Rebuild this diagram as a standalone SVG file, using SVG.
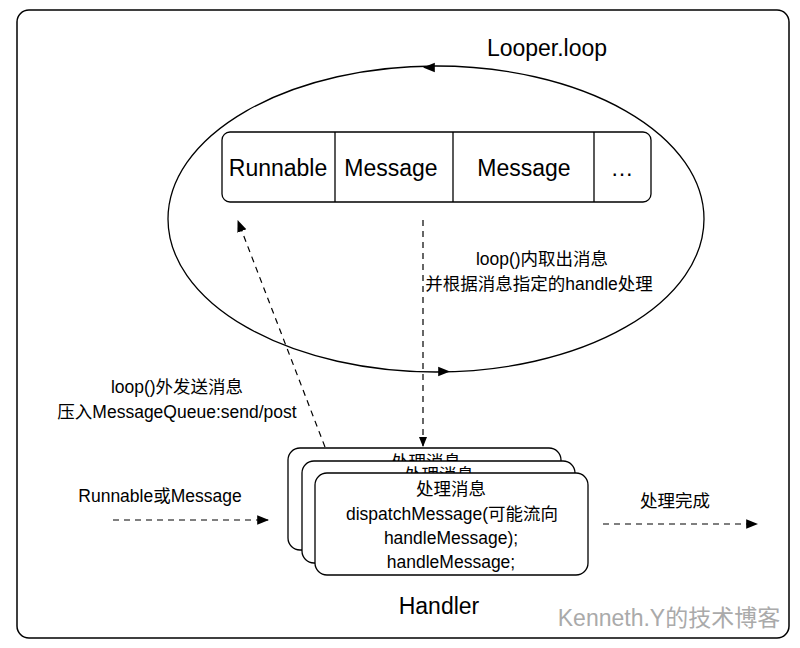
<svg xmlns="http://www.w3.org/2000/svg" width="800" height="648" viewBox="0 0 800 648">
<defs>
<marker id="ah" viewBox="0 0 10 10" refX="9" refY="5" markerWidth="10" markerHeight="10" markerUnits="userSpaceOnUse" orient="auto">
<path d="M0,1 L10,5 L0,9 Z" fill="#000"/>
</marker>
<marker id="ahs" viewBox="0 0 10 10" refX="9" refY="5" markerWidth="12" markerHeight="12" markerUnits="userSpaceOnUse" orient="auto">
<path d="M0,1 L10,5 L0,9 Z" fill="#000"/>
</marker>
</defs>
<style>
text{font-family:"Liberation Sans","Noto Sans CJK SC",sans-serif;fill:#000;text-anchor:middle}
.t23{font-size:23px}
.t17{font-size:17.5px}
.box{fill:#fff;stroke:#000;stroke-width:1.3}
.dash{fill:none;stroke:#000;stroke-width:1.2;stroke-dasharray:6 5}
</style>
<rect width="800" height="648" fill="#fff"/>
<rect id="frame" x="17" y="10" width="772" height="628" rx="12" fill="none" stroke="#000" stroke-width="1.5"/>

<g id="looper">
<ellipse cx="436" cy="219" rx="268" ry="153" fill="none" stroke="#000" stroke-width="1.3"/>
<path d="M440,67.5 L424,67.5" fill="none" stroke="none" marker-end="url(#ahs)"/>
<path d="M432,371.5 L449,371.5" fill="none" stroke="none" marker-end="url(#ahs)"/>
<text class="t23" x="547" y="56">Looper.loop</text>
</g>

<g id="queue">
<rect class="box" x="222" y="132" width="429" height="70" rx="8"/>
<line x1="335" y1="132" x2="335" y2="202" stroke="#000" stroke-width="1.3"/>
<line x1="453" y1="132" x2="453" y2="202" stroke="#000" stroke-width="1.3"/>
<line x1="594" y1="132" x2="594" y2="202" stroke="#000" stroke-width="1.3"/>
<text class="t23" x="278" y="176">Runnable</text>
<text class="t23" x="391" y="176">Message</text>
<text class="t23" x="524" y="176">Message</text>
<text class="t23" x="622" y="176">…</text>
</g>

<g id="connectors">
<line class="dash" x1="325" y1="447" x2="238" y2="221" marker-end="url(#ahs)"/>
<line class="dash" x1="423" y1="220" x2="423" y2="446" marker-end="url(#ah)"/>
<line class="dash" x1="113" y1="520" x2="268" y2="520" marker-end="url(#ahs)"/>
<line class="dash" x1="603" y1="524" x2="757" y2="524" marker-end="url(#ahs)"/>
</g>

<g id="labels">
<text class="t17" x="542" y="265">loop()内取出消息</text>
<text class="t17" x="539" y="290">并根据消息指定的handle处理</text>
<text class="t17" x="177" y="393">loop()外发送消息</text>
<text class="t17" x="177" y="418">压入MessageQueue:send/post</text>
<text class="t17" x="160" y="502">Runnable或Message</text>
<text class="t17" x="675" y="507">处理完成</text>
</g>

<g id="handler">
<rect class="box" x="288" y="448" width="273" height="102" rx="12"/>
<text class="t17" x="426" y="468">处理消息</text>
<rect class="box" x="302" y="461" width="273" height="102" rx="12"/>
<text class="t17" x="439" y="481">处理消息</text>
<rect class="box" x="315" y="473" width="273" height="102" rx="12"/>
<text class="t17" x="451" y="495">处理消息</text>
<text class="t17" x="452" y="520">dispatchMessage(可能流向</text>
<text class="t17" x="451" y="544">handleMessage);</text>
<text class="t17" x="451" y="568">handleMessage;</text>
<text class="t23" x="439" y="614">Handler</text>
</g>

<text x="669" y="626" style="font-size:23px;fill:#aaa">Kenneth.Y的技术博客</text>
</svg>
